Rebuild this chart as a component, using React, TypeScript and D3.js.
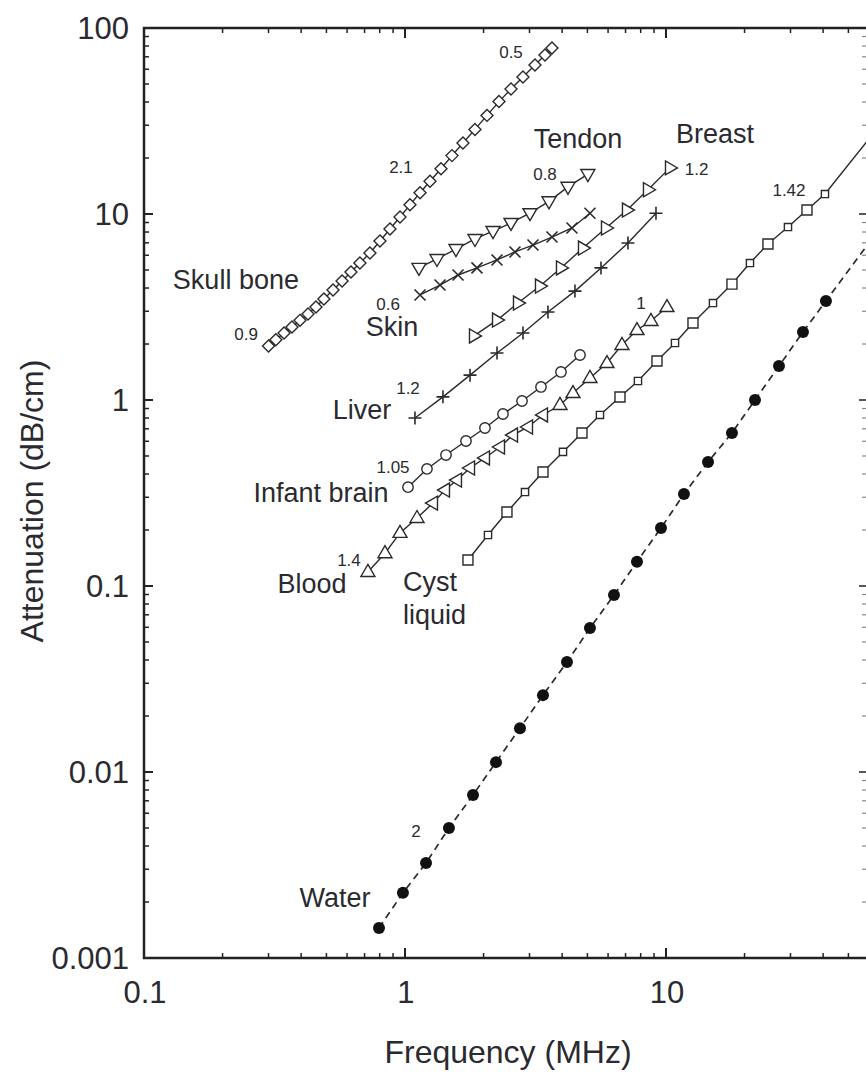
import * as d3 from "d3";

type Pt = [number, number];

// frequency (MHz), attenuation (dB/cm)
const skullBone: Pt[] = [
  [0.30, 1.95], [0.32, 2.11], [0.344, 2.29], [0.369, 2.47], [0.396, 2.68], [0.425, 2.9],
  [0.456, 3.16], [0.489, 3.49], [0.53, 3.9], [0.574, 4.36], [0.621, 4.88], [0.672, 5.45],
  [0.734, 6.17], [0.802, 7.16], [0.876, 8.31], [0.957, 9.63], [1.045, 11.2], [1.142, 13.0],
  [1.247, 15.0], [1.374, 17.5], [1.514, 20.6], [1.668, 24.1], [1.854, 28.5], [2.062, 33.9],
  [2.292, 40.2], [2.548, 47.0], [2.832, 54.5], [3.148, 63.2], [3.439, 71.6], [3.658, 78.1],
];
const tendon: Pt[] = [
  [1.131, 5.13], [1.326, 5.73], [1.568, 6.48], [1.854, 7.34], [2.174, 8.1],
  [2.548, 8.95], [3.012, 10.1], [3.562, 11.7], [4.212, 14.0], [5.02, 16.4],
];
const skin: Pt[] = [
  [1.142, 3.67], [1.362, 4.15], [1.597, 4.7], [1.887, 5.13], [2.252, 5.66],
  [2.639, 6.25], [3.093, 6.81], [3.658, 7.52], [4.363, 8.41], [5.114, 10.1],
];
const breast: Pt[] = [
  [1.838, 2.21], [2.252, 2.69], [2.71, 3.32], [3.29, 4.1], [3.96, 5.13],
  [4.808, 6.56], [5.89, 8.41], [7.088, 10.5], [8.531, 13.5], [10.36, 17.7],
];
const liver: Pt[] = [
  [1.092, 0.8], [1.398, 1.04], [1.775, 1.36], [2.252, 1.79], [2.832, 2.29],
  [3.53, 2.97], [4.48, 3.85], [5.636, 5.13], [7.15, 6.98], [9.156, 10.1],
];
const infantBrain: Pt[] = [
  [1.027, 0.34], [1.214, 0.426], [1.436, 0.506], [1.713, 0.602], [2.025, 0.707],
  [2.374, 0.841], [2.808, 0.988], [3.32, 1.175], [3.96, 1.415], [4.684, 1.746],
];
const blood: Pt[] = [
  [0.721, 0.119], [0.838, 0.15], [0.957, 0.193], [1.112, 0.232], [1.28, 0.279], [1.423, 0.328],
  [1.582, 0.371], [1.775, 0.431], [2.025, 0.488], [2.312, 0.559], [2.593, 0.648], [2.96, 0.716],
  [3.379, 0.831], [3.926, 0.94], [4.402, 1.09], [5.114, 1.313], [5.941, 1.58], [6.782, 1.976],
  [7.743, 2.378], [8.759, 2.66], [10.09, 3.16],
];
const cystLiquid: Pt[] = [
  [1.743, 0.138], [2.08, 0.188], [2.459, 0.25], [2.883, 0.32], [3.379, 0.41], [4.031, 0.526],
  [4.766, 0.665], [5.586, 0.831], [6.664, 1.038], [7.811, 1.265], [9.237, 1.621], [10.83, 2.025],
  [12.69, 2.594], [15.14, 3.32], [17.9, 4.2], [20.98, 5.45], [24.59, 6.9], [29.34, 8.51],
  [34.69, 10.5], [40.66, 12.8],
];
const water: Pt[] = [
  [0.795, 0.00145], [0.982, 0.00224], [1.204, 0.00324], [1.474, 0.005], [1.822, 0.00752],
  [2.232, 0.0113], [2.758, 0.0172], [3.379, 0.0259], [4.175, 0.039], [5.114, 0.0594],
  [6.321, 0.0894], [7.743, 0.135], [9.568, 0.205], [11.72, 0.312], [14.49, 0.464],
  [17.9, 0.665], [21.93, 1.0], [27.1, 1.523], [33.49, 2.32], [41.02, 3.41],
];
// power-law fit lines continue past the last measured point
const cystFitEnd: Pt = [66, 30];
const waterFitEnd: Pt = [66, 8.4];

// tissue names and exponents, placed at (MHz, dB/cm)
const names = [
  { t: "Skull bone", f: 0.225, a: 3.95, anchor: "middle" },
  { t: "Tendon", f: 4.6, a: 22.6, anchor: "middle" },
  { t: "Breast", f: 15.4, a: 24.1, anchor: "middle" },
  { t: "Skin", f: 0.892, a: 2.21, anchor: "middle" },
  { t: "Liver", f: 0.684, a: 0.79, anchor: "middle" },
  { t: "Infant brain", f: 0.477, a: 0.283, anchor: "middle" },
  { t: "Blood", f: 0.44, a: 0.0917, anchor: "middle" },
  { t: "Cyst", f: 0.982, a: 0.094, anchor: "start" },
  { t: "liquid", f: 0.982, a: 0.0625, anchor: "start" },
  { t: "Water", f: 0.539, a: 0.00188, anchor: "middle" },
];
const exponents = [
  { t: "0.5", f: 2.548, a: 69.0, anchor: "middle" },
  { t: "2.1", f: 0.965, a: 16.6, anchor: "middle" },
  { t: "0.9", f: 0.246, a: 2.1, anchor: "middle" },
  { t: "0.8", f: 3.44, a: 15.2, anchor: "middle" },
  { t: "1.2", f: 11.8, a: 16.2, anchor: "start" },
  { t: "1.42", f: 29.6, a: 12.5, anchor: "middle" },
  { t: "0.6", f: 0.861, a: 3.05, anchor: "middle" },
  { t: "1.2", f: 1.027, a: 1.077, anchor: "middle" },
  { t: "1.05", f: 0.9, a: 0.405, anchor: "middle" },
  { t: "1.4", f: 0.61, a: 0.128, anchor: "middle" },
  { t: "1", f: 8.02, a: 3.08, anchor: "middle" },
  { t: "2", f: 1.102, a: 0.00447, anchor: "middle" },
];

const W = 866;
const H = 1072;
const FONT = "'Liberation Sans', Arial, Helvetica, sans-serif";
const INK = "#2a2a30";

const shapes: Record<string, string> = {
  diamond: "M0,-6L6,0L0,6L-6,0Z",
  triDown: "M-7,-4.5L7,-4.5L0,7.5Z",
  triUp: "M-7,4.5L7,4.5L0,-7.5Z",
  triRight: "M-4.5,-7L-4.5,7L7.5,0Z",
  triLeft: "M4.5,-7L4.5,7L-7.5,0Z",
  cross: "M-5.5,-5.5L5.5,5.5M-5.5,5.5L5.5,-5.5",
  plus: "M-6.5,0H6.5M0,-6.5V6.5",
  bigSquare: "M-5,-5H5V5H-5Z",
  smallSquare: "M-3.6,-3.6H3.6V3.6H-3.6Z",
};

export default function App() {
  const x = d3.scaleLog().domain([0.1, 58.4]).range([144, 866]);
  const y = d3.scaleLog().domain([0.001, 100]).range([958, 28]);
  const [x0, x1] = x.range();
  const [y0, y1] = y.range();

  const line = d3.line<Pt>().x((d) => x(d[0])).y((d) => y(d[1]));

  const series = [
    { data: skullBone, marker: () => "diamond" },
    { data: tendon, marker: () => "triDown" },
    { data: skin, marker: () => "cross" },
    { data: breast, marker: () => "triRight" },
    { data: liver, marker: () => "plus" },
    { data: infantBrain, marker: () => "circle" },
    { data: blood, marker: (i: number) => (i >= 4 && i <= 12 ? "triLeft" : "triUp") },
    { data: cystLiquid, marker: (i: number) => (i % 2 === 0 ? "bigSquare" : "smallSquare"), ext: cystFitEnd },
    { data: water, marker: () => "dot", ext: waterFitEnd, dashed: true },
  ];

  const xMajor = [0.1, 1, 10];
  const yMajor = [0.001, 0.01, 0.1, 1, 10, 100];
  const xMinor = x.ticks().filter((t) => !xMajor.some((m) => Math.abs(m - t) < 1e-9));
  const yMinor = y.ticks().filter((t) => !yMajor.some((m) => Math.abs(m - t) < 1e-12));

  return (
    <svg width={W} height={H} style={{ position: "absolute", left: 0, top: 0, background: "#fff" }} fontFamily={FONT}>
      <defs>
        <clipPath id="plot">
          <rect x={x0} y={y1} width={x1 - x0} height={y0 - y1} />
        </clipPath>
      </defs>

      <g clipPath="url(#plot)">
        {series.map((s, k) => (
          <path
            key={"l" + k}
            d={line(s.ext ? [...s.data, s.ext] : s.data) || ""}
            fill="none"
            stroke="#2a2a2a"
            strokeWidth={s.dashed ? 1.7 : 1.4}
            strokeDasharray={s.dashed ? "7,5" : undefined}
          />
        ))}
        {series.map((s, k) =>
          s.data.map((d, i) => {
            const m = s.marker(i);
            const tx = `translate(${x(d[0])},${y(d[1])})`;
            if (m === "circle")
              return <circle key={k + "-" + i} transform={tx} r={5.2} fill="#fff" stroke="#2a2a2a" strokeWidth={1.4} />;
            if (m === "dot")
              return <circle key={k + "-" + i} transform={tx} r={6} fill="#111" />;
            const open = m !== "cross" && m !== "plus";
            return (
              <path
                key={k + "-" + i}
                transform={tx}
                d={shapes[m]}
                fill={open ? "#fff" : "none"}
                stroke="#2a2a2a"
                strokeWidth={m === "cross" || m === "plus" ? 1.6 : 1.4}
              />
            );
          })
        )}
      </g>

      {/* right axis: cropped at the image edge, only its ticks show */}
      {yMinor.map((t) => (
        <line key={"rm" + t} x1={x1} x2={x1 - 4} y1={y(t)} y2={y(t)} stroke="#888" strokeWidth={1.2} />
      ))}
      {yMajor.map((t) => (
        <line key={"rM" + t} x1={x1} x2={x1 - 7} y1={y(t)} y2={y(t)} stroke="#444" strokeWidth={1.8} />
      ))}

      {/* frame: left, bottom, top */}
      <path d={`M${x1},${y1}H${x0}V${y0}H${x1}`} fill="none" stroke="#222" strokeWidth={2.5} />

      {xMinor.map((t) => (
        <g key={"xm" + t}>
          <line x1={x(t)} x2={x(t)} y1={y0} y2={y0 - 5} stroke="#222" strokeWidth={1.5} />
          <line x1={x(t)} x2={x(t)} y1={y1} y2={y1 + 5} stroke="#222" strokeWidth={1.5} />
        </g>
      ))}
      {xMajor.map((t) => (
        <g key={"xM" + t}>
          <line x1={x(t)} x2={x(t)} y1={y0} y2={y0 - 10} stroke="#222" strokeWidth={2} />
          <line x1={x(t)} x2={x(t)} y1={y1} y2={y1 + 10} stroke="#222" strokeWidth={2} />
          <text x={x(t) + 1} y={1003} textAnchor="middle" fontSize={31} fill={INK}>
            {t}
          </text>
        </g>
      ))}
      {yMinor.map((t) => (
        <line key={"ym" + t} x1={x0} x2={x0 + 5} y1={y(t)} y2={y(t)} stroke="#222" strokeWidth={1.5} />
      ))}
      {yMajor.map((t) => (
        <g key={"yM" + t}>
          <line x1={x0} x2={x0 + 9} y1={y(t)} y2={y(t)} stroke="#222" strokeWidth={2} />
          <text x={129} y={y(t)} dy="0.36em" textAnchor="end" fontSize={31} fill={INK}>
            {t}
          </text>
        </g>
      ))}

      {names.map((n, i) => (
        <text key={"n" + i} x={x(n.f)} y={y(n.a)} textAnchor={n.anchor} fontSize={27} fill={INK}>
          {n.t}
        </text>
      ))}
      {exponents.map((n, i) => (
        <text key={"e" + i} x={x(n.f)} y={y(n.a)} textAnchor={n.anchor} fontSize={17} fill={INK}>
          {n.t}
        </text>
      ))}

      <text x={508} y={1063} textAnchor="middle" fontSize={32} fill={INK}>
        Frequency (MHz)
      </text>
      <text transform="translate(31,501) rotate(-90)" dy="0.36em" textAnchor="middle" fontSize={32} fill={INK}>
        Attenuation (dB/cm)
      </text>
    </svg>
  );
}
